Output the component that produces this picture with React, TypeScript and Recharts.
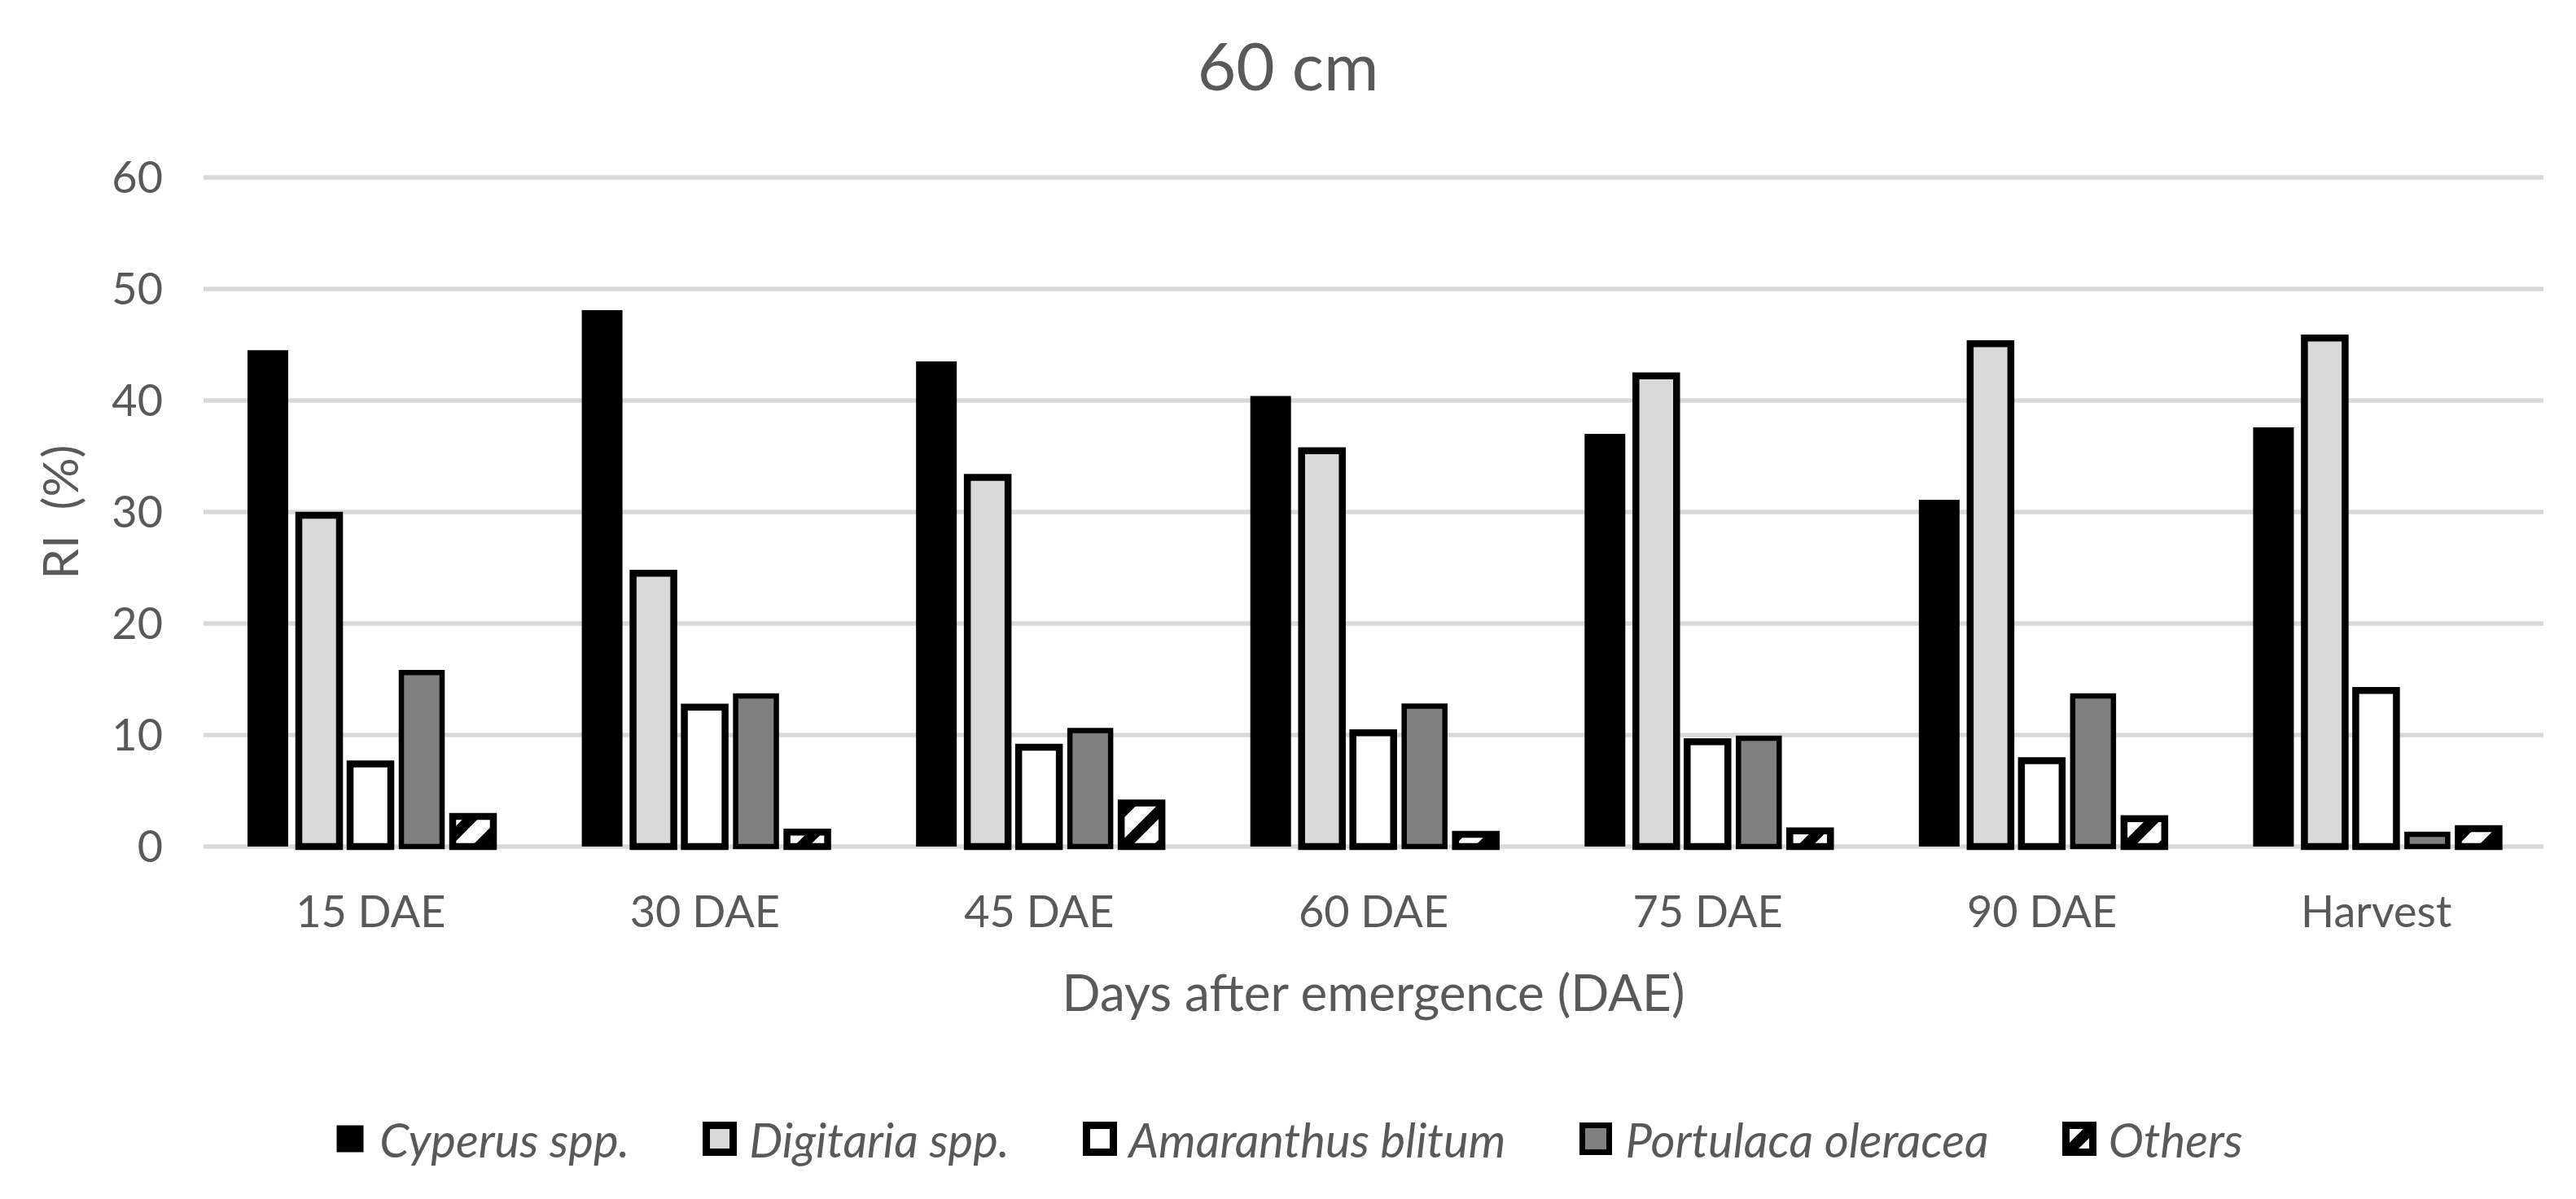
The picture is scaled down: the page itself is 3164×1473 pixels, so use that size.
import React from 'react';
import { BarChart, Bar, XAxis, YAxis, CartesianGrid, Legend } from 'recharts';

const categories = ['15 DAE', '30 DAE', '45 DAE', '60 DAE', '75 DAE', '90 DAE', 'Harvest'];
const cyperus = [44.5, 48.1, 43.5, 40.4, 37.0, 31.1, 37.6];
const digitaria = [29.7, 24.5, 33.1, 35.5, 42.2, 45.1, 45.6];
const amaranthus = [7.4, 12.5, 8.9, 10.2, 9.4, 7.7, 14.0];
const portulaca = [15.6, 13.5, 10.4, 12.6, 9.7, 13.5, 1.1];
const others = [2.7, 1.3, 3.9, 1.1, 1.4, 2.5, 1.6];
const yTicks = [0, 10, 20, 30, 40, 50, 60];

const seriesNames = ['Cyperus spp.', 'Digitaria spp.', 'Amaranthus blitum', 'Portulaca oleracea', 'Others'];

const data = categories.map((c, i) => ({
  name: c,
  cyperus: cyperus[i],
  digitaria: digitaria[i],
  amaranthus: amaranthus[i],
  portulaca: portulaca[i],
  others: others[i],
}));

const FONT = "Lato, Carlito, 'Noto Sans', sans-serif";
const TXT = '#595959';

const legendItems = [
  { name: seriesNames[0], fill: '#000000', stroke: 'none', sw: 0 },
  { name: seriesNames[1], fill: '#d9d9d9', stroke: '#000000', sw: 9 },
  { name: seriesNames[2], fill: '#ffffff', stroke: '#000000', sw: 9 },
  { name: seriesNames[3], fill: '#808080', stroke: '#000000', sw: 7 },
  { name: seriesNames[4], fill: 'url(#hatchOthers)', stroke: '#000000', sw: 9 },
];

const LegendContent = () => (
  <div
    style={{
      height: 80,
      display: 'flex',
      alignItems: 'center',
      justifyContent: 'center',
      gap: 90,
      fontFamily: FONT,
      fontStyle: 'italic',
      fontSize: 58,
      color: TXT,
    }}
  >
    {legendItems.map((it) => (
      <div key={it.name} style={{ display: 'flex', alignItems: 'center', gap: 15 }}>
        <svg width={42} height={42}>
          <rect x={4.5} y={4.5} width={33} height={33} fill={it.fill} stroke={it.stroke} strokeWidth={it.sw} />
        </svg>
        <span style={{ whiteSpace: 'pre' }}>{it.name}</span>
      </div>
    ))}
  </div>
);

const XTitle = (props: any) => {
  const vb = props.viewBox || {};
  return (
    <text
      x={vb.x + vb.width / 2}
      y={vb.y + 202}
      textAnchor="middle"
      fill={TXT}
      fontFamily={FONT}
      fontSize={62}
    >
      Days after emergence (DAE)
    </text>
  );
};

const YTitle = (props: any) => {
  const vb = props.viewBox || {};
  const cx = 96;
  const cy = vb.y + vb.height / 2;
  return (
    <text
      x={cx}
      y={cy}
      transform={`rotate(-90, ${cx}, ${cy})`}
      textAnchor="middle"
      fill={TXT}
      fontFamily={FONT}
      fontSize={60}
      style={{ whiteSpace: 'pre' }}
    >
      {'RI  (%)'}
    </text>
  );
};

export default function App() {
  return (
    <div style={{ position: 'absolute', left: 0, top: 0, width: 3164, height: 1473, background: '#fff' }}>
      <svg width={0} height={0} style={{ position: 'absolute' }}>
        <defs>
          <pattern id="hatchOthers" patternUnits="userSpaceOnUse" width={44} height={44}>
            <rect x={0} y={0} width={44} height={44} fill="#ffffff" />
            <line x1={0} y1={44} x2={44} y2={0} stroke="#000" strokeWidth={13} />
            <line x1={-22} y1={22} x2={22} y2={-22} stroke="#000" strokeWidth={13} />
            <line x1={22} y1={66} x2={66} y2={22} stroke="#000" strokeWidth={13} />
          </pattern>
        </defs>
      </svg>
      <div
        style={{
          position: 'absolute',
          left: 0,
          top: 0,
          width: 3164,
          textAlign: 'center',
          fontFamily: FONT,
          fontSize: 82,
          color: TXT,
          lineHeight: '82px',
          paddingTop: 38,
        }}
      >
        60 cm
      </div>
      <BarChart
        width={3164}
        height={1473}
        data={data}
        margin={{ top: 218, right: 40, bottom: 34, left: 0 }}
        barGap={13}
        barSize={50}
      >
        <CartesianGrid vertical={false} stroke="#d9d9d9" strokeWidth={5.5} />
        <XAxis
          dataKey="name"
          height={319}
          tickLine={false}
          axisLine={false}
          tickSize={0}
          tickMargin={61}
          tick={{ fill: TXT, fontSize: 54, fontFamily: FONT }}
          label={<XTitle />}
        />
        <YAxis
          width={250}
          domain={[0, 60]}
          ticks={yTicks}
          tickLine={false}
          axisLine={false}
          tickSize={0}
          tickMargin={50}
          tick={{ fill: TXT, fontSize: 54, fontFamily: FONT }}
          label={<YTitle />}
        />
        <Legend
          verticalAlign="bottom"
          align="center"
          wrapperStyle={{ left: 0, width: 3164 }}
          content={<LegendContent />}
        />
        <Bar dataKey="cyperus" name={seriesNames[0]} fill="#000000" isAnimationActive={false} />
        <Bar dataKey="digitaria" name={seriesNames[1]} fill="#d9d9d9" stroke="#000" strokeWidth={8.5} isAnimationActive={false} />
        <Bar dataKey="amaranthus" name={seriesNames[2]} fill="#ffffff" stroke="#000" strokeWidth={8.5} isAnimationActive={false} />
        <Bar dataKey="portulaca" name={seriesNames[3]} fill="#808080" stroke="#000" strokeWidth={6.5} isAnimationActive={false} />
        <Bar dataKey="others" name={seriesNames[4]} fill="url(#hatchOthers)" stroke="#000" strokeWidth={8.5} isAnimationActive={false} />
      </BarChart>
    </div>
  );
}
